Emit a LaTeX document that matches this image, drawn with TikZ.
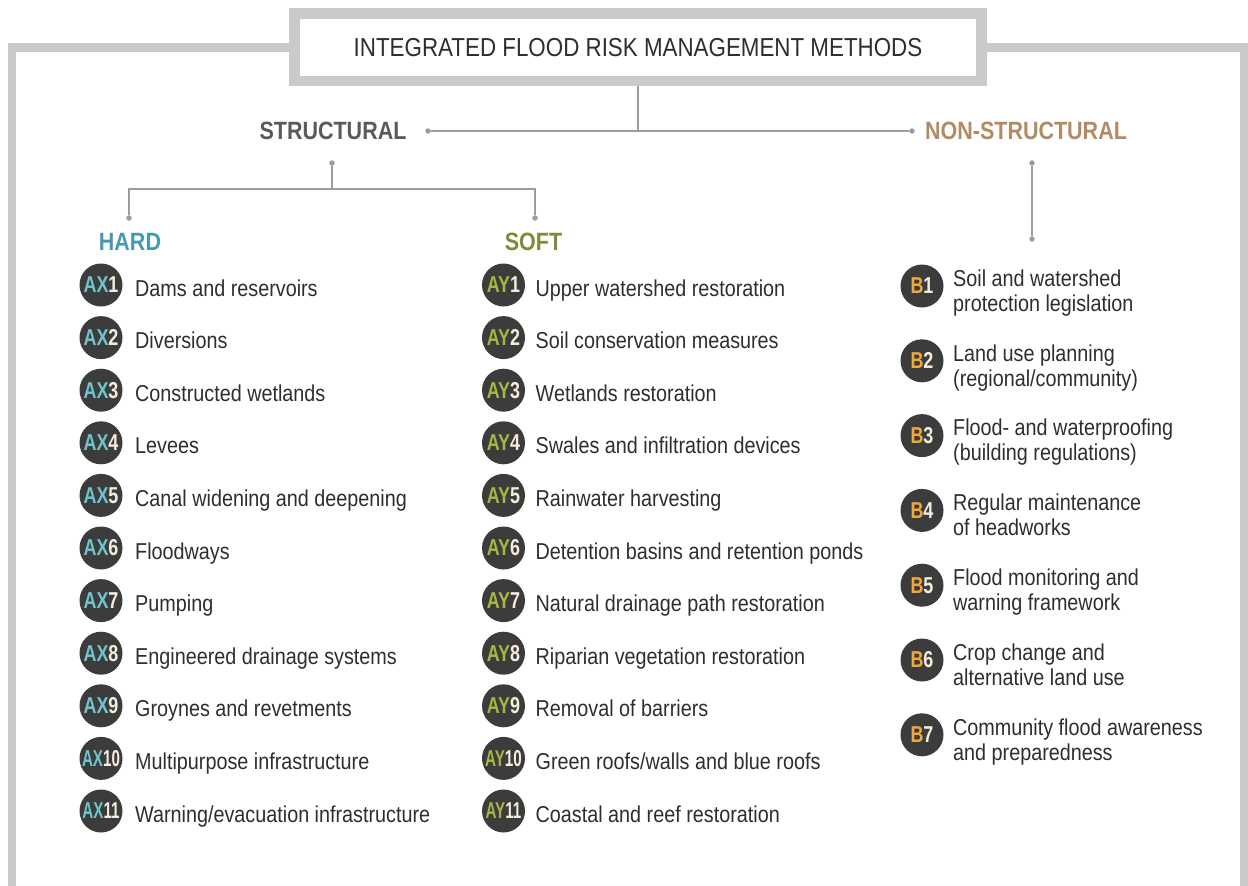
\documentclass[tikz,border=0pt]{standalone}
\usepackage{fontspec}
\setmainfont[FakeStretch=0.86]{Liberation Sans}
\newfontfamily\badgefont[FakeStretch=0.78]{Liberation Sans}
\newfontfamily\narrowfont[FakeStretch=0.66]{Liberation Sans}

\definecolor{framegray}{HTML}{CBCAC8}
\definecolor{linegray}{HTML}{9C9C9E}
\definecolor{ink}{HTML}{2E2E2E}
\definecolor{headgray}{HTML}{5A5A5C}
\definecolor{headtan}{HTML}{B38B63}
\definecolor{hardblue}{HTML}{4799B0}
\definecolor{softgreen}{HTML}{7E8B37}
\definecolor{badgefill}{HTML}{3C3C3C}
\definecolor{axcol}{HTML}{6FC5CD}
\definecolor{aycol}{HTML}{A9B542}
\definecolor{bcol}{HTML}{F1A83A}
\definecolor{cream}{HTML}{F5ECDC}

\begin{document}
\begin{tikzpicture}[x=1pt,y=-1pt,
  frame/.style={draw=framegray,line width=8.5pt},
  titlebox/.style={draw=framegray,line width=10.5pt,fill=white,inner sep=0pt,
    minimum width=687pt,minimum height=67.3pt,text=ink,
    font=\fontsize{26}{30}\selectfont},
  conn/.style={draw=linegray,line width=1.4pt},
  dot/.style={circle,fill=linegray,inner sep=0pt,minimum size=5.5pt},
  head/.style={font=\fontsize{25}{28}\selectfont\bfseries,inner sep=0pt},
  badge/.style={circle,fill=badgefill,inner sep=0pt,minimum size=43pt,
    font=\fontsize{23}{26}\selectfont\badgefont\bfseries},
  item/.style={anchor=base west,inner sep=0pt,text=ink,
    font=\fontsize{23}{25}\selectfont},
  bitem/.style={anchor=north west,inner sep=0pt,text=ink,align=left,
    font=\fontsize{23}{25}\selectfont}]
\useasboundingbox (0,0) rectangle (1248,886);

% title box and the outer frame hanging from it
\node[titlebox] (title) at (638,47.3) {INTEGRATED FLOOD RISK MANAGEMENT METHODS};
\coordinate (fbl) at (12,900);
\coordinate (fbr) at (1244,900);
\draw[frame] (fbl) |- (title.west);
\draw[frame] (title.east) -| (fbr);

% first level: structural / non-structural
\node[head,text=headgray] (struct) at (333,131) {STRUCTURAL};
\node[head,text=headtan] (nonstruct) at (1026,131) {NON-STRUCTURAL};
\coordinate (hub) at (638,131);
\node[dot] (ldot) at (428,131) {};
\node[dot] (rdot) at (912,131) {};
\draw[conn] (title.south) -- (hub);
\draw[conn] (ldot) -- (rdot);

% second level: hard / soft
\node[dot] (sdot) at (332,163) {};
\coordinate (sjoin) at (332,189);
\node[dot] (hdot) at (129,218) {};
\node[dot] (fdot) at (535,218) {};
\draw[conn] (sdot) -- (sjoin);
\draw[conn] (hdot) |- (sjoin) -| (fdot);
\node[head,text=hardblue] (hard) at (130,242) {HARD};
\node[head,text=softgreen] (soft) at (533.5,242) {SOFT};

% non-structural drop line
\node[dot] (ndot1) at (1032,163) {};
\node[dot] (ndot2) at (1032,239) {};
\draw[conn] (ndot1) -- (ndot2);

% hard measures
\foreach \n/\t [count=\i] in {
  1/{Dams and reservoirs},
  2/{Diversions},
  3/{Constructed wetlands},
  4/{Levees},
  5/{Canal widening and deepening},
  6/{Floodways},
  7/{Pumping},
  8/{Engineered drainage systems},
  9/{Groynes and revetments},
  10/{Multipurpose infrastructure},
  11/{Warning/evacuation infrastructure}}{
  \pgfmathsetmacro{\cy}{285+(\i-1)*52.6}
  \node[badge] (ax\n) at (101,\cy) {\ifnum\n>9\narrowfont\fi\textcolor{axcol}{AX}\textcolor{cream}{\n}};
  \node[item] (axt\n) at (135,\cy+11) {\t};
}

% soft measures
\foreach \n/\t [count=\i] in {
  1/{Upper watershed restoration},
  2/{Soil conservation measures},
  3/{Wetlands restoration},
  4/{Swales and infiltration devices},
  5/{Rainwater harvesting},
  6/{Detention basins and retention ponds},
  7/{Natural drainage path restoration},
  8/{Riparian vegetation restoration},
  9/{Removal of barriers},
  10/{Green roofs/walls and blue roofs},
  11/{Coastal and reef restoration}}{
  \pgfmathsetmacro{\cy}{285+(\i-1)*52.6}
  \node[badge] (ay\n) at (503.5,\cy) {\ifnum\n>9\narrowfont\fi\textcolor{aycol}{AY}\textcolor{cream}{\n}};
  \node[item] (ayt\n) at (535.5,\cy+11) {\t};
}

% non-structural measures
\foreach \n/\t [count=\i] in {
  1/{Soil and watershed\\protection legislation},
  2/{Land use planning\\(regional/community)},
  3/{Flood- and waterproofing\\(building regulations)},
  4/{Regular maintenance\\of headworks},
  5/{Flood monitoring and\\warning framework},
  6/{Crop change and\\alternative land use},
  7/{Community flood awareness\\and preparedness}}{
  \pgfmathsetmacro{\cy}{286+(\i-1)*74.8}
  \node[badge] (b\n) at (922,\cy) {\textcolor{bcol}{B}\textcolor{cream}{\n}};
  \node[bitem] (bt\n) at (953,\cy-16.5) {\t};
}
\end{tikzpicture}
\end{document}
